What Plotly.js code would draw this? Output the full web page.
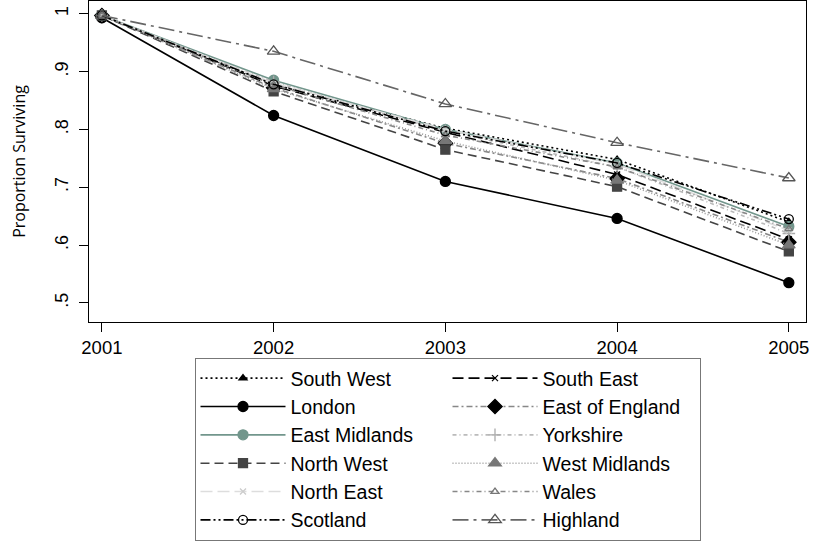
<!DOCTYPE html>
<html><head><meta charset="utf-8">
<script src="https://cdn.plot.ly/plotly-3.0.1.min.js"></script>
<style>html,body{margin:0;padding:0;background:#fff}</style>
</head><body><div id="chart" style="width:817px;height:544px"></div>
<script>
const years = [2001, 2002, 2003, 2004, 2005];
const yTickVals = [0.5, 0.6, 0.7, 0.8, 0.9, 1];
const yTickText = ['.5', '.6', '.7', '.8', '.9', '1'];
const southWest   = [0.997, 0.878, 0.802, 0.748, 0.640];
const southEast   = [0.997, 0.875, 0.795, 0.722, 0.610];
const london      = [0.993, 0.824, 0.710, 0.646, 0.535];
const eastEngland = [0.997, 0.872, 0.776, 0.715, 0.605];
const eastMid     = [0.997, 0.885, 0.800, 0.742, 0.632];
const yorkshire   = [0.997, 0.882, 0.797, 0.735, 0.620];
const northWest   = [0.997, 0.866, 0.765, 0.701, 0.589];
const westMid     = [0.997, 0.870, 0.780, 0.712, 0.600];
const northEast   = [0.997, 0.880, 0.800, 0.740, 0.625];
const wales       = [0.997, 0.877, 0.790, 0.735, 0.628];
const scotland    = [0.997, 0.878, 0.797, 0.742, 0.645];
const highland    = [0.997, 0.935, 0.844, 0.777, 0.716];

function tr(name, y, color, dash, symbol, msize, mcolor, width) {
  return {x: years, y: y, name: name, type: 'scatter', mode: 'lines+markers',
    line: {color: color, dash: dash, width: width || 1.6},
    marker: {symbol: symbol, size: msize, color: mcolor || color,
             line: {color: mcolor || color, width: 1.3}}};
}
const data = [
  tr('South West', southWest, '#000', '2px,3px', 'triangle-up', 7),
  tr('South East', southEast, '#000', '11px,5px', 'x-thin', 6, '#000'),
  tr('London', london, '#000', 'solid', 'circle', 10),
  tr('East of England', eastEngland, '#888', '6px,3px,2px,3px', 'diamond', 11, '#000'),
  tr('East Midlands', eastMid, '#72968c', 'solid', 'circle', 10),
  tr('Yorkshire', yorkshire, '#bbb', '4px,3px,1px,3px', 'cross-thin', 9, '#aaa'),
  tr('North West', northWest, '#444', '9px,5px', 'square', 9),
  tr('West Midlands', westMid, '#999', '1px,2px', 'triangle-up', 11, '#777'),
  tr('North East', northEast, '#ddd', '12px,5px', 'x-thin', 6, '#ccc'),
  tr('Wales', wales, '#888', '5px,3px,1px,3px', 'triangle-up-open', 7, '#777'),
  tr('Scotland', scotland, '#000', '10px,3px,2px,3px,2px,3px', 'circle-open', 9),
  tr('Highland', highland, '#666', '16px,5px,3px,5px', 'triangle-up-open', 11, '#555')
];
const layout = {
  width: 817, height: 544,
  margin: {l: 89, r: 11, t: 1, b: 222},
  paper_bgcolor: '#fff', plot_bgcolor: '#fff',
  font: {family: 'Liberation Sans, Arial, sans-serif', color: '#000'},
  showlegend: true,
  xaxis: {range: [2000.925, 2005.1], tickvals: years, ticktext: years.map(String),
    showgrid: false, zeroline: false, showline: true, linecolor: '#000', linewidth: 1, mirror: true,
    ticks: 'outside', ticklen: 9, tickcolor: '#000', tickfont: {size: 18.5}},
  yaxis: {range: [0.467, 1.022], tickvals: yTickVals, ticktext: yTickText, tickangle: -90,
    showgrid: false, zeroline: false, showline: true, linecolor: '#000', linewidth: 1, mirror: true,
    ticks: 'outside', ticklen: 9, tickcolor: '#000', tickfont: {size: 18}, ticklabelstandoff: 4,
    title: {text: 'Proportion Surviving', font: {size: 16, family: 'Open Sans, sans-serif'}, standoff: 22}},
  legend: {orientation: 'h', x: 0.5, xanchor: 'center', y: -0.112, yanchor: 'top',
    entrywidth: 152, entrywidthmode: 'pixels', itemwidth: 85,
    bordercolor: '#777', borderwidth: 1, bgcolor: '#fff', font: {size: 19.5},
    traceorder: 'normal'}
};
Plotly.newPlot('chart', data, layout, {displayModeBar: false, staticPlot: true});
</script></body></html>
